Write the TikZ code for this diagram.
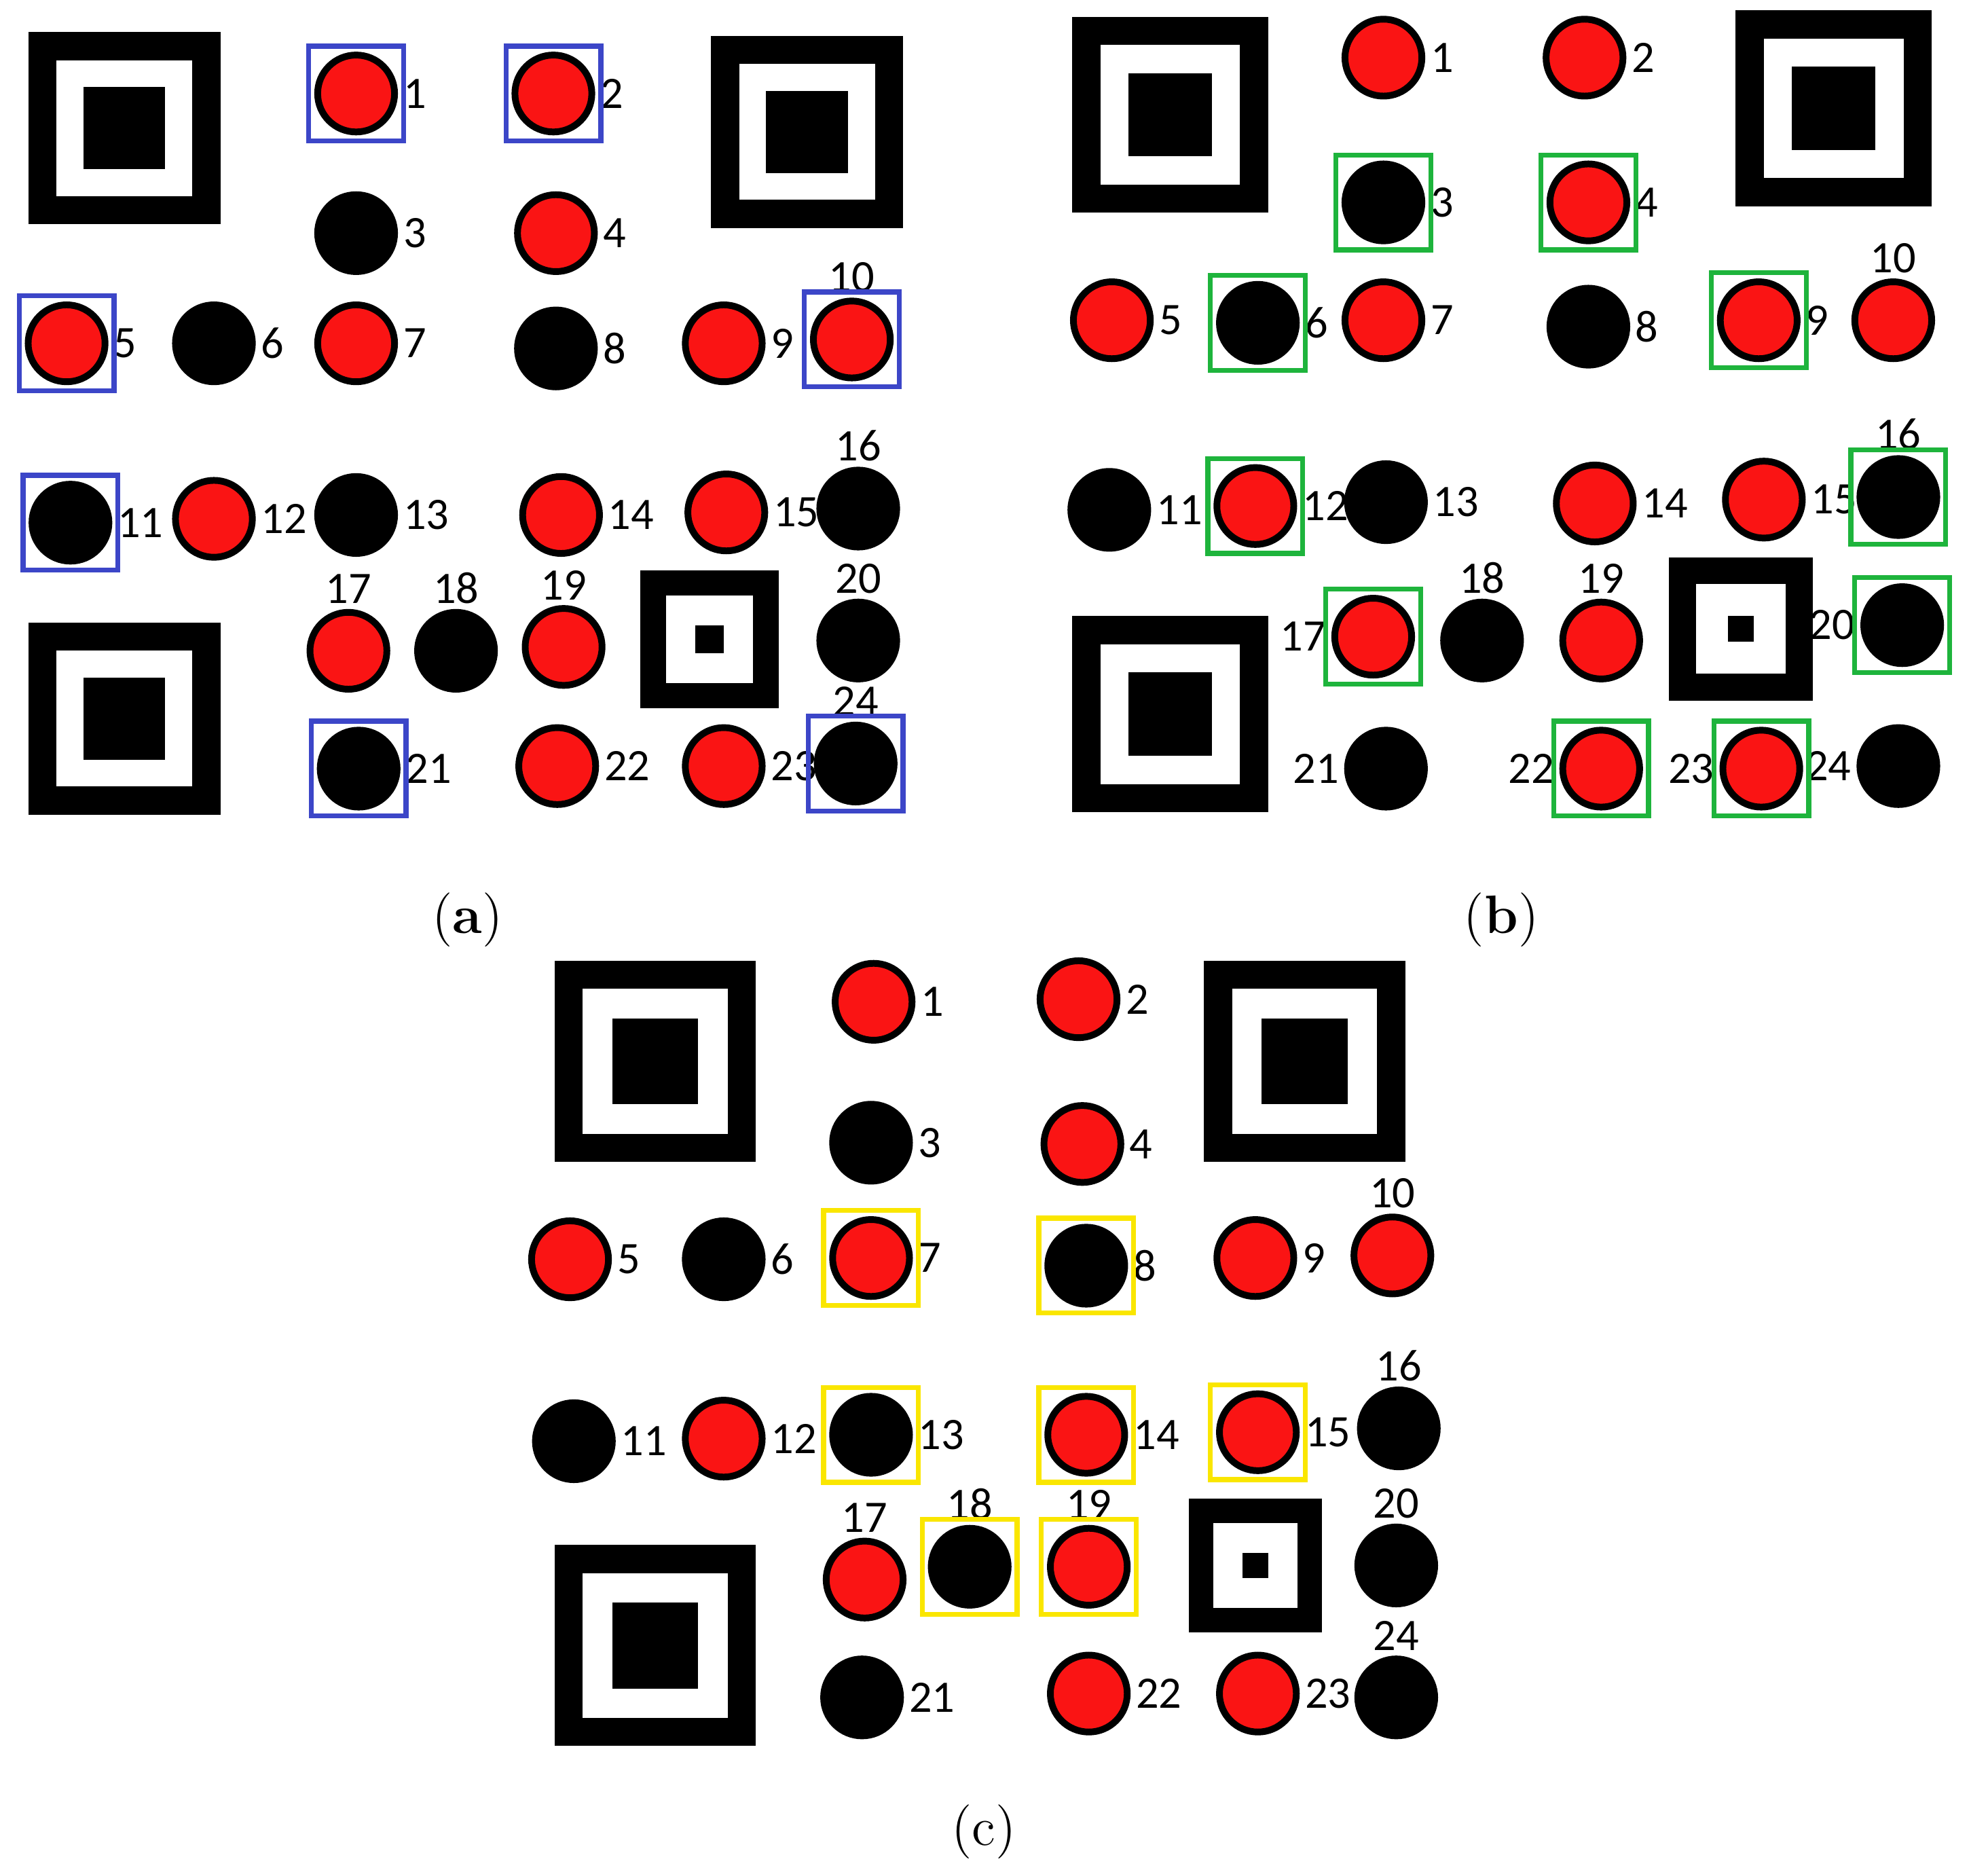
\documentclass[tikz,border=0pt]{standalone}
\usepackage{fontspec}
\newfontfamily\numfont{Carlito}
\usetikzlibrary{positioning}
\definecolor{boxblue}{RGB}{60,70,200}
\definecolor{boxgreen}{RGB}{30,180,60}
\definecolor{boxyellow}{RGB}{250,230,0}
\definecolor{dotred}{RGB}{250,20,20}
% finder pattern: x, y (top left), size, white inset, centre inset
\newcommand\qrfinder[5]{%
  \fill[black] (#1,#2) rectangle ++(#3,#3);
  \fill[white] (#1+#4,#2+#4) rectangle ++(#3-2*#4,#3-2*#4);
  \fill[black] (#1+#5,#2+#5) rectangle ++(#3-2*#5,#3-2*#5);}
\tikzset{
  dot/.style={circle,draw=black,fill=#1,line width=1.5pt,minimum size=0.6cm,inner sep=0pt},
  num/.style={font=\numfont\fontsize{10}{12}\selectfont,inner sep=1pt},
  box/.style={draw=#1,line width=1.1pt,minimum size=0.74cm,inner sep=0pt},
  caption/.style={font=\fontsize{12}{14}\selectfont}
}
\begin{document}
\begin{tikzpicture}[x=0.01cm,y=-0.01cm]
\useasboundingbox (0,0) rectangle (1552,1458);

% (a)
\qrfinder{22}{25}{150}{22}{43}
\qrfinder{555}{28}{150}{22}{43}
\qrfinder{22}{486}{150}{22}{43}
\qrfinder{500}{445}{108}{20}{43}
\foreach \n/\x/\y/\c/\a/\b in {1/278/73/dotred/west/east,2/432/73/dotred/west/east,
  3/278/182/black/west/east,4/434/182/dotred/west/east,5/52/268/dotred/west/east,
  6/167/268/black/west/east,7/278/268/dotred/west/east,8/434/272/black/west/east,
  9/565/268/dotred/west/east,10/665/265/dotred/south/north,11/55/408/black/west/east,
  12/167/405/dotred/west/east,13/278/402/black/west/east,14/438/402/dotred/west/east,
  15/567/400/dotred/west/east,16/670/397/black/south/north,17/272/508/dotred/south/north,
  18/356/508/black/south/north,19/440/505/dotred/south/north,20/670/500/black/south/north,
  21/280/600/black/west/east,22/435/598/dotred/west/east,23/565/598/dotred/west/east,
  24/668/596/black/south/north}{
  \node[dot=\c] (a\n) at (\x,\y) {};
  \node[num,anchor=\a] (la\n) at (a\n.\b) {\n};
}
\foreach \n in {1,2,5,10,11,21,24}
  \node[box=boxblue] (ba\n) at (a\n) {};
\node[caption] (capa) at (365,718) {(\textbf{a})};

% (b)
\qrfinder{837}{13}{153}{22}{44}
\qrfinder{1355}{8}{153}{22}{44}
\qrfinder{837}{481}{153}{22}{44}
\qrfinder{1303}{435}{112}{21}{46}
\foreach \n/\x/\y/\c/\a/\b in {1/1080/45/dotred/west/east,2/1237/45/dotred/west/east,
  3/1080/158/black/west/east,4/1240/158/dotred/west/east,5/868/250/dotred/west/east,
  6/982/252/black/west/east,7/1080/250/dotred/west/east,8/1240/255/black/west/east,
  9/1373/250/dotred/west/east,10/1478/250/dotred/south/north,11/866/398/black/west/east,
  12/980/395/dotred/west/east,13/1082/392/black/west/east,14/1245/393/dotred/west/east,
  15/1377/390/dotred/west/east,16/1482/388/black/south/north,17/1072/497/dotred/east/west,
  18/1157/500/black/south/north,19/1250/500/dotred/south/north,20/1485/488/black/east/west,
  21/1082/600/black/east/west,22/1250/600/dotred/east/west,23/1375/600/dotred/east/west,
  24/1482/598/black/east/west}{
  \node[dot=\c] (b\n) at (\x,\y) {};
  \node[num,anchor=\a] (lb\n) at (b\n.\b) {\n};
}
\foreach \n in {3,4,6,9,12,16,17,20,22,23}
  \node[box=boxgreen] (bb\n) at (b\n) {};
\node[caption] (capb) at (1172,718) {(\textbf{b})};

% (c)
\qrfinder{433}{750}{157}{22}{45}
\qrfinder{940}{750}{157}{22}{45}
\qrfinder{433}{1206}{157}{22}{45}
\qrfinder{928}{1170}{104}{19}{42}
\foreach \n/\x/\y/\c/\a/\b in {1/682/782/dotred/west/east,2/842/780/dotred/west/east,
  3/680/892/black/west/east,4/845/893/dotred/west/east,5/445/983/dotred/west/east,
  6/565/983/black/west/east,7/680/982/dotred/west/east,8/848/988/black/west/east,
  9/980/982/dotred/west/east,10/1087/980/dotred/south/north,11/448/1125/black/west/east,
  12/565/1123/dotred/west/east,13/680/1120/black/west/east,14/848/1120/dotred/west/east,
  15/982/1118/dotred/west/east,16/1092/1115/black/south/north,17/675/1233/dotred/south/north,
  18/757/1223/black/south/north,19/850/1223/dotred/south/north,20/1090/1222/black/south/north,
  21/673/1325/black/west/east,22/850/1322/dotred/west/east,23/982/1322/dotred/west/east,
  24/1090/1325/black/south/north}{
  \node[dot=\c] (c\n) at (\x,\y) {};
  \node[num,anchor=\a] (lc\n) at (c\n.\b) {\n};
}
\foreach \n in {7,8,13,14,15,18,19}
  \node[box=boxyellow] (bc\n) at (c\n) {};
\node[caption] (capc) at (768,1430) {(c)};
\end{tikzpicture}
\end{document}
